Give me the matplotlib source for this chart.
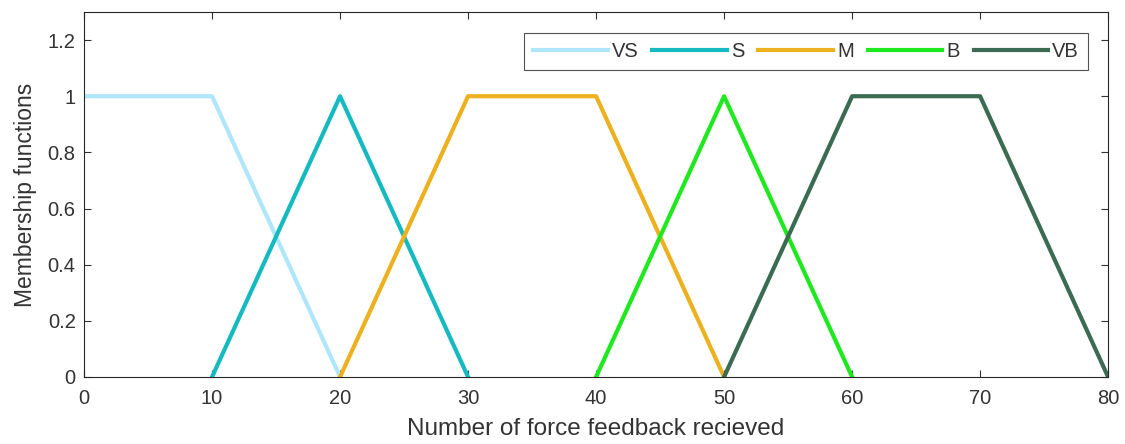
import matplotlib.pyplot as plt

plt.rcParams['font.family'] = ['Liberation Sans', 'DejaVu Sans']

# membership function breakpoints
labels = ['VS', 'S', 'M', 'B', 'VB']
vs_x = [0, 10, 20]
vs_y = [1, 1, 0]
s_x = [10, 20, 30]
s_y = [0, 1, 0]
m_x = [20, 30, 40, 50]
m_y = [0, 1, 1, 0]
b_x = [40, 50, 60]
b_y = [0, 1, 0]
vb_x = [50, 60, 70, 80]
vb_y = [0, 1, 1, 0]
colors = ['#aee6fa', '#14bac0', '#edb120', '#1ee81e', '#3b6b52']

fig = plt.figure(figsize=(11.25, 4.44), dpi=100)
ax = fig.add_axes([0.0747, 0.151, 0.9103, 0.822])

series = [(vs_x, vs_y), (s_x, s_y), (m_x, m_y), (b_x, b_y), (vb_x, vb_y)]
for (x, y), lab, c in zip(series, labels, colors):
    ax.plot(x, y, color=c, linewidth=3, label=lab)

ax.set_xlim(0, 80)
ax.set_ylim(0, 1.3)
ax.set_xticks(range(0, 81, 10))
ax.set_yticks([0, 0.2, 0.4, 0.6, 0.8, 1, 1.2])
ax.set_yticklabels(['0', '0.2', '0.4', '0.6', '0.8', '1', '1.2'])
ax.tick_params(direction='in', top=True, right=True, labelsize=14.5, colors='#333333', length=5)
ax.tick_params(axis='x', pad=9)
ax.tick_params(axis='y', pad=6)
for sp in ax.spines.values():
    sp.set_color('#262626')
    sp.set_linewidth(0.8)

ax.set_xlabel('Number of force feedback recieved', fontsize=17.5, color='#333333', labelpad=7)
ax.set_ylabel('Membership functions', fontsize=16.5, color='#333333', labelpad=8)

leg = ax.legend(loc='upper right', ncol=5, fontsize=14.5, frameon=True, fancybox=False,
                edgecolor='#262626', handlelength=3.7, handletextpad=0.2, columnspacing=0.7,
                borderpad=0.45, borderaxespad=0, bbox_to_anchor=(0.9805, 0.9425))
leg.get_frame().set_linewidth(0.8)
for t in leg.get_texts():
    t.set_color('#333333')

fig.savefig('out.png', dpi=100)
